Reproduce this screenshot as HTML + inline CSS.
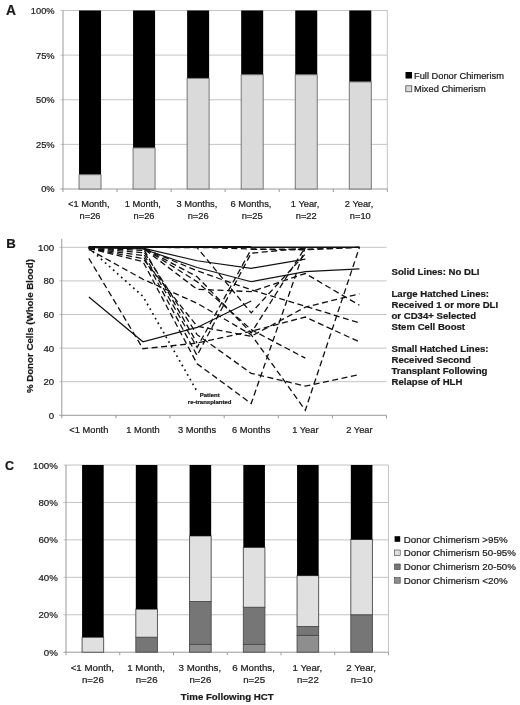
<!DOCTYPE html>
<html><head><meta charset="utf-8"><style>
html,body{margin:0;padding:0;background:#fff;}
svg{display:block;filter:grayscale(1);}
text{font-family:"Liberation Sans", sans-serif;fill:#1a1a1a;stroke:#1a1a1a;stroke-width:0.22px;}
</style></head><body>
<svg width="520" height="705" viewBox="0 0 520 705">
<rect width="520" height="705" fill="#fff"/>
<line x1="60.5" y1="144.38" x2="387.3" y2="144.38" stroke="#c4c4c4" stroke-width="1"/>
<line x1="60.5" y1="99.75" x2="387.3" y2="99.75" stroke="#c4c4c4" stroke-width="1"/>
<line x1="60.5" y1="55.12" x2="387.3" y2="55.12" stroke="#c4c4c4" stroke-width="1"/>
<line x1="60.5" y1="10.5" x2="387.3" y2="10.5" stroke="#c4c4c4" stroke-width="1"/>
<line x1="387.3" y1="10.5" x2="387.3" y2="189" stroke="#c4c4c4" stroke-width="1"/>
<line x1="63" y1="10.5" x2="63" y2="189" stroke="#9a9a9a" stroke-width="1"/>
<line x1="60.5" y1="189" x2="387.3" y2="189" stroke="#9a9a9a" stroke-width="1"/>
<line x1="63" y1="189" x2="63" y2="192" stroke="#9a9a9a" stroke-width="1"/>
<line x1="117.05" y1="189" x2="117.05" y2="192" stroke="#9a9a9a" stroke-width="1"/>
<line x1="171.1" y1="189" x2="171.1" y2="192" stroke="#9a9a9a" stroke-width="1"/>
<line x1="225.15" y1="189" x2="225.15" y2="192" stroke="#9a9a9a" stroke-width="1"/>
<line x1="279.2" y1="189" x2="279.2" y2="192" stroke="#9a9a9a" stroke-width="1"/>
<line x1="333.25" y1="189" x2="333.25" y2="192" stroke="#9a9a9a" stroke-width="1"/>
<line x1="387.3" y1="189" x2="387.3" y2="192" stroke="#9a9a9a" stroke-width="1"/>
<rect x="79.03" y="10.5" width="22" height="164.22" fill="#000"/>
<rect x="79.03" y="174.72" width="22" height="14.28" fill="#dadada" stroke="#6a6a6a" stroke-width="0.9"/>
<rect x="133.07" y="10.5" width="22" height="137.44" fill="#000"/>
<rect x="133.07" y="147.94" width="22" height="41.06" fill="#dadada" stroke="#6a6a6a" stroke-width="0.9"/>
<rect x="187.12" y="10.5" width="22" height="67.83" fill="#000"/>
<rect x="187.12" y="78.33" width="22" height="110.67" fill="#dadada" stroke="#6a6a6a" stroke-width="0.9"/>
<rect x="241.18" y="10.5" width="22" height="64.26" fill="#000"/>
<rect x="241.18" y="74.76" width="22" height="114.24" fill="#dadada" stroke="#6a6a6a" stroke-width="0.9"/>
<rect x="295.23" y="10.5" width="22" height="64.26" fill="#000"/>
<rect x="295.23" y="74.76" width="22" height="114.24" fill="#dadada" stroke="#6a6a6a" stroke-width="0.9"/>
<rect x="349.28" y="10.5" width="22" height="71.4" fill="#000"/>
<rect x="349.28" y="81.9" width="22" height="107.1" fill="#dadada" stroke="#6a6a6a" stroke-width="0.9"/>
<text x="54.6" y="192.4" text-anchor="end" font-size="9.3">0%</text>
<text x="54.6" y="147.78" text-anchor="end" font-size="9.3">25%</text>
<text x="54.6" y="103.15" text-anchor="end" font-size="9.3">50%</text>
<text x="54.6" y="58.52" text-anchor="end" font-size="9.3">75%</text>
<text x="54.6" y="13.9" text-anchor="end" font-size="9.3">100%</text>
<text x="88.83" y="207.3" text-anchor="middle" font-size="9.3">&lt;1 Month,</text>
<text x="90.03" y="218.8" text-anchor="middle" font-size="9.3">n=26</text>
<text x="142.88" y="207.3" text-anchor="middle" font-size="9.3">1 Month,</text>
<text x="144.07" y="218.8" text-anchor="middle" font-size="9.3">n=26</text>
<text x="196.93" y="207.3" text-anchor="middle" font-size="9.3">3 Months,</text>
<text x="198.12" y="218.8" text-anchor="middle" font-size="9.3">n=26</text>
<text x="250.98" y="207.3" text-anchor="middle" font-size="9.3">6 Months,</text>
<text x="252.18" y="218.8" text-anchor="middle" font-size="9.3">n=25</text>
<text x="305.03" y="207.3" text-anchor="middle" font-size="9.3">1 Year,</text>
<text x="306.23" y="218.8" text-anchor="middle" font-size="9.3">n=22</text>
<text x="359.08" y="207.3" text-anchor="middle" font-size="9.3">2 Year,</text>
<text x="360.28" y="218.8" text-anchor="middle" font-size="9.3">n=10</text>
<rect x="405.5" y="72" width="6.5" height="6.5" fill="#000"/>
<text x="414" y="78.5" font-size="9.3">Full Donor Chimerism</text>
<rect x="405.8" y="85.8" width="6" height="6" fill="#dadada" stroke="#3a3a3a" stroke-width="0.7"/>
<text x="414" y="92.3" font-size="9.3">Mixed Chimerism</text>
<text x="6" y="14.7" font-size="13.8" font-weight="bold">A</text>
<line x1="59.3" y1="381.7" x2="386.5" y2="381.7" stroke="#c4c4c4" stroke-width="1"/>
<line x1="59.3" y1="348.1" x2="386.5" y2="348.1" stroke="#c4c4c4" stroke-width="1"/>
<line x1="59.3" y1="314.5" x2="386.5" y2="314.5" stroke="#c4c4c4" stroke-width="1"/>
<line x1="59.3" y1="280.9" x2="386.5" y2="280.9" stroke="#c4c4c4" stroke-width="1"/>
<line x1="59.3" y1="247.3" x2="386.5" y2="247.3" stroke="#c4c4c4" stroke-width="1"/>
<line x1="61.8" y1="238.8" x2="61.8" y2="415.3" stroke="#9a9a9a" stroke-width="1"/>
<line x1="59.3" y1="415.3" x2="386.5" y2="415.3" stroke="#9a9a9a" stroke-width="1"/>
<line x1="61.8" y1="415.3" x2="61.8" y2="418.3" stroke="#9a9a9a" stroke-width="1"/>
<line x1="115.92" y1="415.3" x2="115.92" y2="418.3" stroke="#9a9a9a" stroke-width="1"/>
<line x1="170.03" y1="415.3" x2="170.03" y2="418.3" stroke="#9a9a9a" stroke-width="1"/>
<line x1="224.15" y1="415.3" x2="224.15" y2="418.3" stroke="#9a9a9a" stroke-width="1"/>
<line x1="278.27" y1="415.3" x2="278.27" y2="418.3" stroke="#9a9a9a" stroke-width="1"/>
<line x1="332.38" y1="415.3" x2="332.38" y2="418.3" stroke="#9a9a9a" stroke-width="1"/>
<line x1="386.5" y1="415.3" x2="386.5" y2="418.3" stroke="#9a9a9a" stroke-width="1"/>
<text x="54.1" y="418.7" text-anchor="end" font-size="9.6">0</text>
<text x="54.1" y="385.1" text-anchor="end" font-size="9.6">20</text>
<text x="54.1" y="351.5" text-anchor="end" font-size="9.6">40</text>
<text x="54.1" y="317.9" text-anchor="end" font-size="9.6">60</text>
<text x="54.1" y="284.3" text-anchor="end" font-size="9.6">80</text>
<text x="54.1" y="250.7" text-anchor="end" font-size="9.6">100</text>
<text x="88.86" y="433" text-anchor="middle" font-size="9.3">&lt;1 Month</text>
<text x="142.97" y="433" text-anchor="middle" font-size="9.3">1 Month</text>
<text x="197.09" y="433" text-anchor="middle" font-size="9.3">3 Months</text>
<text x="251.21" y="433" text-anchor="middle" font-size="9.3">6 Months</text>
<text x="305.32" y="433" text-anchor="middle" font-size="9.3">1 Year</text>
<text x="359.44" y="433" text-anchor="middle" font-size="9.3">2 Year</text>
<text transform="translate(32.9 326.1) rotate(-90)" text-anchor="middle" font-size="9.7" font-weight="bold">% Donor Cells (Whole Blood)</text>
<text x="6.3" y="247.6" font-size="13.2" font-weight="bold">B</text>
<text x="391.5" y="274.5" font-size="9.6" font-weight="bold">Solid Lines: No DLI</text>
<text x="391.5" y="296.5" font-size="9.6" font-weight="bold">Large Hatched Lines:</text>
<text x="391.5" y="307.7" font-size="9.6" font-weight="bold">Received 1 or more DLI</text>
<text x="391.5" y="318.8" font-size="9.6" font-weight="bold">or CD34+ Selected</text>
<text x="391.5" y="330" font-size="9.6" font-weight="bold">Stem Cell Boost</text>
<text x="391.5" y="352" font-size="9.6" font-weight="bold">Small Hatched Lines:</text>
<text x="391.5" y="363.2" font-size="9.6" font-weight="bold">Received Second</text>
<text x="391.5" y="374.3" font-size="9.6" font-weight="bold">Transplant Following</text>
<text x="391.5" y="385.4" font-size="9.6" font-weight="bold">Relapse of HLH</text>
<text x="209.8" y="397" text-anchor="middle" font-size="6" font-weight="bold">Patient</text>
<text x="209.7" y="404" text-anchor="middle" font-size="6" font-weight="bold">re-transplanted</text>
<polyline points="88.86,247.3 142.97,247.3 197.09,247.3 251.21,247.3 305.32,247.3 359.44,247.3" fill="none" stroke="#111" stroke-width="1.4"/>
<polyline points="88.86,246.71 142.97,246.71 197.09,246.71 251.21,246.71" fill="none" stroke="#111" stroke-width="1.4"/>
<polyline points="88.86,247.3 142.97,248.14 197.09,260.74 251.21,268.3 305.32,259.06" fill="none" stroke="#111" stroke-width="1.2"/>
<polyline points="88.86,247.3 142.97,248.98 197.09,267.46 251.21,281.74 305.32,271.66 359.44,268.8" fill="none" stroke="#111" stroke-width="1.2"/>
<polyline points="88.86,297.03 142.97,341.72 197.09,327.44 251.21,301.06" fill="none" stroke="#111" stroke-width="1.2"/>
<polyline points="88.86,258.39 142.97,348.77 197.09,343.06 251.21,331.3 305.32,317.02 359.44,341.88" fill="none" stroke="#111" stroke-width="1.3" stroke-dasharray="6 3.5"/>
<polyline points="88.86,249.32 142.97,279.22 197.09,303.24 251.21,334.66 305.32,410.26 359.44,247.3" fill="none" stroke="#111" stroke-width="1.3" stroke-dasharray="6 3.5"/>
<polyline points="88.86,248.48 142.97,261.58 197.09,363.72 251.21,403.54 305.32,247.3" fill="none" stroke="#111" stroke-width="1.3" stroke-dasharray="6 3.5"/>
<polyline points="88.86,248.48 142.97,258.56 197.09,326.26 251.21,336.34 305.32,307.11 359.44,293.84" fill="none" stroke="#111" stroke-width="1.3" stroke-dasharray="6 3.5"/>
<polyline points="88.86,247.3 142.97,247.3 197.09,247.64 251.21,312.82 305.32,254.02" fill="none" stroke="#111" stroke-width="1.3" stroke-dasharray="6 3.5"/>
<polyline points="88.86,248.48 142.97,252.68 197.09,347.43 251.21,249.32 305.32,249.82 359.44,247.3" fill="none" stroke="#111" stroke-width="1.3" stroke-dasharray="6 3.5"/>
<polyline points="88.86,248.48 142.97,255.53 197.09,355.49 251.21,253.18 305.32,248.14" fill="none" stroke="#111" stroke-width="1.3" stroke-dasharray="6 3.5"/>
<polyline points="88.86,248.48 142.97,250.32 197.09,334.66 251.21,373.3 305.32,386.07 359.44,374.48" fill="none" stroke="#111" stroke-width="1.3" stroke-dasharray="6 3.5"/>
<polyline points="88.86,247.3 142.97,248.14 197.09,270.82 251.21,289.8 305.32,306.27 359.44,322.9" fill="none" stroke="#111" stroke-width="1.3" stroke-dasharray="6 3.5"/>
<polyline points="88.86,247.3 142.97,247.8 197.09,276.7 251.21,332.98 305.32,247.3" fill="none" stroke="#111" stroke-width="1.3" stroke-dasharray="6 3.5"/>
<polyline points="88.86,247.3 142.97,247.8 197.09,281.74 251.21,329.62 305.32,358.18" fill="none" stroke="#111" stroke-width="1.3" stroke-dasharray="6 3.5"/>
<polyline points="88.86,247.3 142.97,248.14 197.09,289.3 251.21,291.65 305.32,273.51 359.44,305.26" fill="none" stroke="#111" stroke-width="1.3" stroke-dasharray="6 3.5"/>
<polyline points="88.86,247.3 142.97,247.3 197.09,247.3 251.21,248.98 305.32,249.32 359.44,247.3" fill="none" stroke="#111" stroke-width="1.3" stroke-dasharray="6 3.5"/>
<polyline points="88.86,247.3 142.97,247.8 197.09,343.06" fill="none" stroke="#111" stroke-width="1.3" stroke-dasharray="6 3.5"/>
<polyline points="88.86,248.14 142.97,296.36 197.09,391.44" fill="none" stroke="#111" stroke-width="1.7" stroke-dasharray="1.7 3.7"/>
<line x1="63.5" y1="614.76" x2="388.5" y2="614.76" stroke="#c4c4c4" stroke-width="1"/>
<line x1="63.5" y1="577.32" x2="388.5" y2="577.32" stroke="#c4c4c4" stroke-width="1"/>
<line x1="63.5" y1="539.88" x2="388.5" y2="539.88" stroke="#c4c4c4" stroke-width="1"/>
<line x1="63.5" y1="502.44" x2="388.5" y2="502.44" stroke="#c4c4c4" stroke-width="1"/>
<line x1="63.5" y1="465" x2="388.5" y2="465" stroke="#c4c4c4" stroke-width="1"/>
<line x1="388.5" y1="465" x2="388.5" y2="652.2" stroke="#c4c4c4" stroke-width="1"/>
<line x1="66" y1="465" x2="66" y2="652.2" stroke="#9a9a9a" stroke-width="1"/>
<line x1="63.5" y1="652.2" x2="388.5" y2="652.2" stroke="#9a9a9a" stroke-width="1"/>
<line x1="66" y1="652.2" x2="66" y2="655.2" stroke="#9a9a9a" stroke-width="1"/>
<line x1="119.75" y1="652.2" x2="119.75" y2="655.2" stroke="#9a9a9a" stroke-width="1"/>
<line x1="173.5" y1="652.2" x2="173.5" y2="655.2" stroke="#9a9a9a" stroke-width="1"/>
<line x1="227.25" y1="652.2" x2="227.25" y2="655.2" stroke="#9a9a9a" stroke-width="1"/>
<line x1="281" y1="652.2" x2="281" y2="655.2" stroke="#9a9a9a" stroke-width="1"/>
<line x1="334.75" y1="652.2" x2="334.75" y2="655.2" stroke="#9a9a9a" stroke-width="1"/>
<line x1="388.5" y1="652.2" x2="388.5" y2="655.2" stroke="#9a9a9a" stroke-width="1"/>
<rect x="82.08" y="637.22" width="21.6" height="14.98" fill="#e0e0e0" stroke="#4a4a4a" stroke-width="0.9"/>
<rect x="82.08" y="465" width="21.6" height="172.22" fill="#000"/>
<rect x="135.82" y="637.22" width="21.6" height="14.98" fill="#767676" stroke="#4a4a4a" stroke-width="0.9"/>
<rect x="135.82" y="609.14" width="21.6" height="28.08" fill="#e0e0e0" stroke="#4a4a4a" stroke-width="0.9"/>
<rect x="135.82" y="465" width="21.6" height="144.14" fill="#000"/>
<rect x="189.57" y="644.34" width="21.6" height="7.86" fill="#8e8e8e" stroke="#4a4a4a" stroke-width="0.9"/>
<rect x="189.57" y="601.47" width="21.6" height="42.87" fill="#767676" stroke="#4a4a4a" stroke-width="0.9"/>
<rect x="189.57" y="535.95" width="21.6" height="65.52" fill="#e0e0e0" stroke="#4a4a4a" stroke-width="0.9"/>
<rect x="189.57" y="465" width="21.6" height="70.95" fill="#000"/>
<rect x="243.32" y="644.34" width="21.6" height="7.86" fill="#8e8e8e" stroke="#4a4a4a" stroke-width="0.9"/>
<rect x="243.32" y="607.27" width="21.6" height="37.07" fill="#767676" stroke="#4a4a4a" stroke-width="0.9"/>
<rect x="243.32" y="547.37" width="21.6" height="59.9" fill="#e0e0e0" stroke="#4a4a4a" stroke-width="0.9"/>
<rect x="243.32" y="465" width="21.6" height="82.37" fill="#000"/>
<rect x="297.07" y="635.35" width="21.6" height="16.85" fill="#8e8e8e" stroke="#4a4a4a" stroke-width="0.9"/>
<rect x="297.07" y="626.55" width="21.6" height="8.8" fill="#767676" stroke="#4a4a4a" stroke-width="0.9"/>
<rect x="297.07" y="575.64" width="21.6" height="50.92" fill="#e0e0e0" stroke="#4a4a4a" stroke-width="0.9"/>
<rect x="297.07" y="465" width="21.6" height="110.64" fill="#000"/>
<rect x="350.82" y="614.76" width="21.6" height="37.44" fill="#767676" stroke="#4a4a4a" stroke-width="0.9"/>
<rect x="350.82" y="539.51" width="21.6" height="75.25" fill="#e0e0e0" stroke="#4a4a4a" stroke-width="0.9"/>
<rect x="350.82" y="465" width="21.6" height="74.51" fill="#000"/>
<text x="57.8" y="655.7" text-anchor="end" font-size="9.7">0%</text>
<text x="57.8" y="618.26" text-anchor="end" font-size="9.7">20%</text>
<text x="57.8" y="580.82" text-anchor="end" font-size="9.7">40%</text>
<text x="57.8" y="543.38" text-anchor="end" font-size="9.7">60%</text>
<text x="57.8" y="505.94" text-anchor="end" font-size="9.7">80%</text>
<text x="57.8" y="468.5" text-anchor="end" font-size="9.7">100%</text>
<text x="92.38" y="671" text-anchor="middle" font-size="9.7">&lt;1 Month,</text>
<text x="92.88" y="682.7" text-anchor="middle" font-size="9.7">n=26</text>
<text x="146.12" y="671" text-anchor="middle" font-size="9.7">1 Month,</text>
<text x="146.62" y="682.7" text-anchor="middle" font-size="9.7">n=26</text>
<text x="199.88" y="671" text-anchor="middle" font-size="9.7">3 Months,</text>
<text x="200.38" y="682.7" text-anchor="middle" font-size="9.7">n=26</text>
<text x="253.62" y="671" text-anchor="middle" font-size="9.7">6 Months,</text>
<text x="254.12" y="682.7" text-anchor="middle" font-size="9.7">n=25</text>
<text x="307.38" y="671" text-anchor="middle" font-size="9.7">1 Year,</text>
<text x="307.88" y="682.7" text-anchor="middle" font-size="9.7">n=22</text>
<text x="361.12" y="671" text-anchor="middle" font-size="9.7">2 Year,</text>
<text x="361.62" y="682.7" text-anchor="middle" font-size="9.7">n=10</text>
<text x="227.3" y="699.9" text-anchor="middle" font-size="9.7" font-weight="bold">Time Following HCT</text>
<text x="5" y="470" font-size="12.5" font-weight="bold">C</text>
<rect x="394.6" y="536.2" width="5.6" height="5.6" fill="#000"/>
<text x="403.8" y="542.6" font-size="9.75">Donor Chimerism &gt;95%</text>
<rect x="394.6" y="550" width="5.6" height="5.6" fill="#e0e0e0" stroke="#3a3a3a" stroke-width="0.6"/>
<text x="403.8" y="556.4" font-size="9.75">Donor Chimerism 50-95%</text>
<rect x="394.6" y="564" width="5.6" height="5.6" fill="#767676" stroke="#3a3a3a" stroke-width="0.6"/>
<text x="403.8" y="570.4" font-size="9.75">Donor Chimerism 20-50%</text>
<rect x="394.6" y="577.6" width="5.6" height="5.6" fill="#8e8e8e" stroke="#3a3a3a" stroke-width="0.6"/>
<text x="403.8" y="584" font-size="9.75">Donor Chimerism &lt;20%</text>
</svg>
</body></html>
